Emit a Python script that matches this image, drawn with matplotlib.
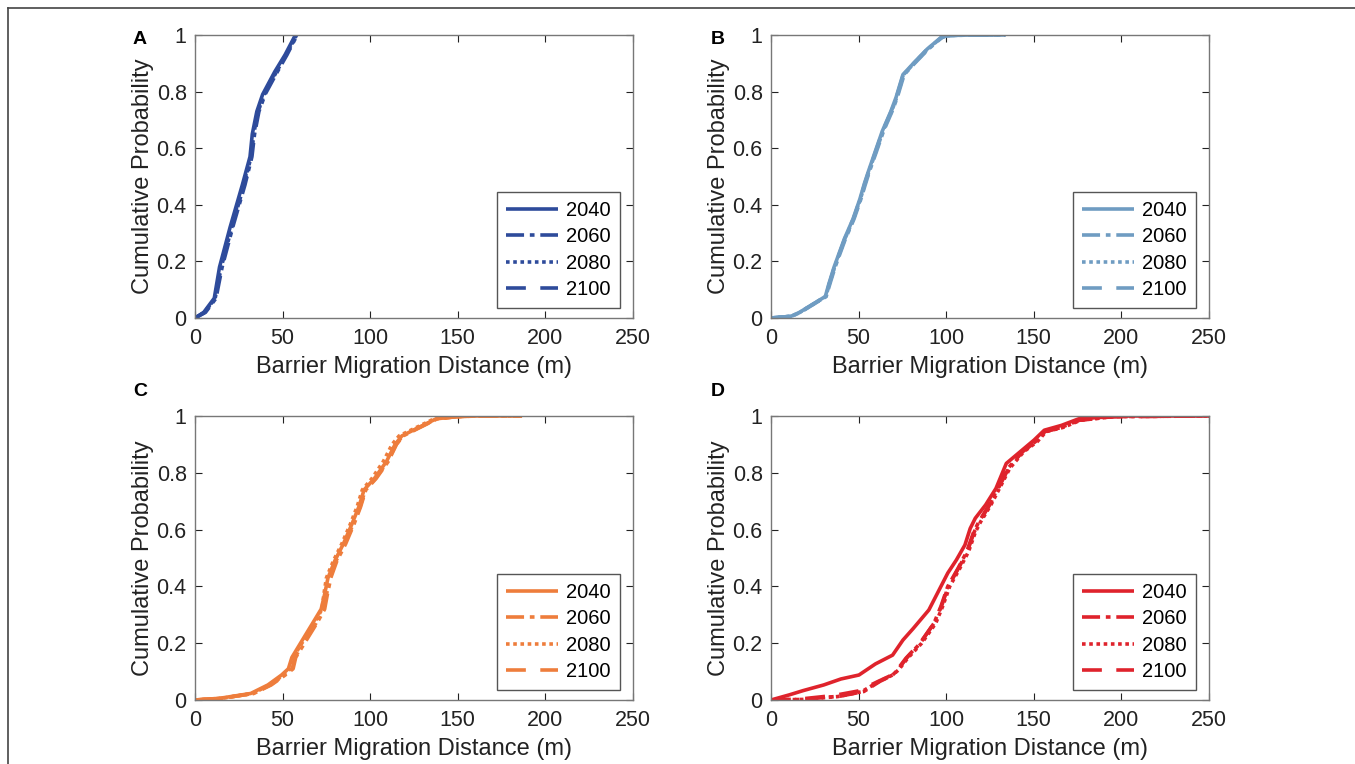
import matplotlib
matplotlib.use('Agg')
import matplotlib.pyplot as plt
from matplotlib.lines import Line2D

plt.rcParams['font.family'] = ['Liberation Sans', 'DejaVu Sans']

YEARS = ['2040', '2060', '2080', '2100']
PANEL_LETTERS = ['A', 'B', 'C', 'D']
COLORS = ['#2E4B9B', '#6F9CC2', '#EE7D3C', '#DF232C']

# --- panel A (blue) ---
a_x_2040 = [0, 5, 11, 14, 20, 27, 31.4, 32.7, 35.3, 38.6, 45.5, 51.4, 57.3]
a_y_2040 = [0, 0.02, 0.07, 0.18, 0.32, 0.47, 0.57, 0.65, 0.73, 0.79, 0.87, 0.93, 1.0]
a_x_2060 = [0, 6, 12, 15.5, 21.5, 28.5, 32.5, 34, 36.5, 40, 47, 52.5, 58.3]
a_y_2060 = [0, 0.02, 0.07, 0.18, 0.32, 0.47, 0.57, 0.65, 0.73, 0.79, 0.87, 0.93, 1.0]
a_x_2080 = [0, 5.5, 11.5, 15, 21, 28, 32, 33.5, 36, 39.5, 46.5, 52, 58]
a_y_2080 = [0, 0.02, 0.07, 0.18, 0.32, 0.47, 0.57, 0.65, 0.73, 0.79, 0.87, 0.93, 1.0]
a_x_2100 = [0, 5.5, 11.5, 14.5, 20.5, 27.5, 32, 33.3, 36, 39.2, 46, 52, 57.8]
a_y_2100 = [0, 0.02, 0.07, 0.18, 0.32, 0.47, 0.57, 0.65, 0.73, 0.79, 0.87, 0.93, 1.0]

# --- panel B (light blue) ---
b_x_2040 = [0, 11.4, 16.3, 24.2, 31, 33, 36, 41.9, 46.8, 50.7, 53.3, 55.7, 59.6, 63.5,
            68.4, 71.4, 75.3, 81.3, 89.1, 96.8, 99.8, 114.5, 133.9]
b_y_2040 = [0, 0.006, 0.02, 0.05, 0.076, 0.12, 0.18, 0.28, 0.35, 0.42, 0.475, 0.52, 0.59, 0.66,
            0.73, 0.78, 0.86, 0.9, 0.95, 0.99, 0.998, 1.0, 1.0]
b_x_2060 = [0, 11.8, 16.8, 24.7, 31.5, 33.6, 36.6, 42.5, 47.4, 51.3, 54, 56.3, 60.3, 64.2,
            69.1, 72.1, 76, 82, 89.8, 97.4, 100.4, 115, 133.5]
b_y_2060 = b_y_2040
b_x_2080 = [0, 11.6, 16.5, 24.4, 31.3, 33.3, 36.3, 42.2, 47.1, 51, 53.7, 56, 60, 63.9,
            68.8, 71.8, 75.7, 81.6, 89.4, 97.1, 100.1, 114.8, 133.7]
b_y_2080 = b_y_2040
b_x_2100 = [0, 11.5, 16.4, 24.3, 31.2, 33.2, 36.2, 42.1, 47, 50.9, 53.5, 55.9, 59.8, 63.7,
            68.6, 71.6, 75.5, 81.5, 89.3, 97, 100, 114.6, 133.8]
b_y_2100 = b_y_2040

# --- panel C (orange) ---
c_x_2040 = [0, 14.1, 31.8, 41.6, 49.4, 53.3, 55.3, 61.2, 67.1, 72, 73.9, 75.9, 79.8, 84.7,
            89.6, 93.5, 96.5, 102.4, 109.3, 114.2, 118.1, 127.8, 137.6, 149.4, 161.2, 186.7]
c_y_2040 = [0, 0.006, 0.023, 0.053, 0.088, 0.11, 0.15, 0.21, 0.27, 0.32, 0.37, 0.43, 0.49, 0.55,
            0.62, 0.68, 0.74, 0.78, 0.84, 0.9, 0.93, 0.96, 0.99, 0.998, 1.0, 1.0]
c_x_2060 = [0, 15, 33.5, 43.5, 51.5, 56, 57.5, 63.5, 69.5, 74, 75.5, 77.5, 81, 86,
            90.8, 94.5, 97.5, 103.4, 110.3, 115, 118.8, 128.5, 138.2, 150, 162, 186.5]
c_y_2060 = c_y_2040
c_x_2080 = [0, 15.5, 33, 42.5, 50.5, 54.5, 56, 62, 68, 72.5, 73.5, 75, 79, 83.8,
            88.7, 92.5, 95.5, 101, 107.5, 112.5, 116.5, 126.5, 136.5, 148.5, 160.5, 186.2]
c_y_2080 = c_y_2040
c_x_2100 = [0, 15.2, 33.3, 43, 51, 55.5, 57, 63, 69, 73.5, 75, 77, 80.5, 85.5,
            90.3, 94.2, 97.2, 103, 110, 114.8, 118.5, 128.2, 138, 149.8, 161.5, 186.6]
c_y_2100 = c_y_2040

# --- panel D (red) ---
d_x_2040 = [0, 10.4, 18.3, 30.1, 39.9, 50.2, 59.6, 69.4, 75.3, 81.2, 90.1, 95, 100.9, 105.8,
            110.7, 113.7, 116.6, 122.5, 128.4, 134.3, 142.2, 150.1, 156, 165.8, 175.6, 195.3,
            205, 250]
d_y_2040 = [0, 0.018, 0.033, 0.053, 0.074, 0.088, 0.127, 0.158, 0.211, 0.252, 0.317, 0.376,
            0.447, 0.493, 0.546, 0.604, 0.64, 0.687, 0.745, 0.833, 0.874, 0.915, 0.95, 0.967,
            0.99, 0.998, 1.0, 1.0]
d_x_2060 = [0, 18.3, 40, 53, 62, 69.4, 72.4, 77.3, 85.2, 93, 97, 100.9, 106.8, 111.7,
            115.7, 118.6, 124.5, 130.4, 135.3, 143.2, 151, 156, 165.8, 175.6, 195.3, 250]
d_y_2060 = [0, 0.002, 0.014, 0.03, 0.065, 0.088, 0.106, 0.147, 0.2, 0.27, 0.33, 0.4, 0.464,
            0.522, 0.592, 0.627, 0.687, 0.757, 0.816, 0.874, 0.91, 0.945, 0.96, 0.985, 0.998, 1.0]
d_x_2080 = [0, 18.3, 38, 51.7, 61.6, 69.4, 72.8, 78, 86, 94, 98, 102, 107.8, 112.7,
            116.7, 119.6, 125.5, 131.4, 136.3, 144.2, 152, 157, 166.8, 176.6, 196.3, 250]
d_y_2080 = [0, 0.002, 0.012, 0.029, 0.065, 0.088, 0.106, 0.147, 0.2, 0.27, 0.33, 0.4, 0.464,
            0.522, 0.592, 0.627, 0.687, 0.757, 0.816, 0.874, 0.91, 0.945, 0.96, 0.985, 0.998, 1.0]
d_x_2100 = [0, 16, 36, 50, 61, 69, 72, 77, 85, 93, 97.3, 101.2, 107, 112,
            116, 118.9, 124.8, 130.7, 135.6, 143.5, 151.3, 156.3, 166, 176, 195.5, 250]
d_y_2100 = [0, 0.003, 0.016, 0.032, 0.065, 0.088, 0.106, 0.147, 0.2, 0.27, 0.33, 0.4, 0.464,
            0.522, 0.592, 0.627, 0.687, 0.757, 0.816, 0.874, 0.91, 0.945, 0.96, 0.985, 0.998, 1.0]

panels = [
    [(a_x_2040, a_y_2040), (a_x_2060, a_y_2060), (a_x_2080, a_y_2080), (a_x_2100, a_y_2100)],
    [(b_x_2040, b_y_2040), (b_x_2060, b_y_2060), (b_x_2080, b_y_2080), (b_x_2100, b_y_2100)],
    [(c_x_2040, c_y_2040), (c_x_2060, c_y_2060), (c_x_2080, c_y_2080), (c_x_2100, c_y_2100)],
    [(d_x_2040, d_y_2040), (d_x_2060, d_y_2060), (d_x_2080, d_y_2080), (d_x_2100, d_y_2100)],
]

XTICKS = [0, 50, 100, 150, 200, 250]
YTICKS = [0, 0.2, 0.4, 0.6, 0.8, 1]
YTICK_LABELS = ['0', '0.2', '0.4', '0.6', '0.8', '1']

# solid, dash-dot, dotted, dashed (MATLAB style)
line_dashes = [None, (5, 1.6, 1.3, 1.6), (1, 1.0), (5.5, 4)]

W, H = 1355, 764
fig = plt.figure(figsize=(W / 100, H / 100), dpi=100)

# pixel boxes: left, top, right, bottom
boxes = [(195, 35, 633, 318), (771, 35, 1209, 318),
         (195, 416, 633, 700), (771, 416, 1209, 700)]
letter_pos = [(140, 40), (718, 40), (140, 392), (718, 392)]

for i, (l, t, r, b) in enumerate(boxes):
    ax = fig.add_axes([l / W, 1 - b / H, (r - l) / W, (b - t) / H])
    for j, (xs, ys) in enumerate(panels[i]):
        ln, = ax.plot(xs, ys, color=COLORS[i], lw=2.6, label=YEARS[j],
                      solid_capstyle='butt', dash_capstyle='butt')
        if line_dashes[j] is not None:
            ln.set_dashes(line_dashes[j])
    ax.set_xlim(0, 250)
    ax.set_ylim(0, 1)
    ax.set_xticks(XTICKS)
    ax.set_yticks(YTICKS)
    ax.set_yticklabels(YTICK_LABELS)
    ax.tick_params(direction='in', length=5, width=0.8, top=True, right=True,
                   labelsize=15.5, colors='#222222')
    ax.tick_params(axis='x', pad=7)
    ax.tick_params(axis='y', pad=6)
    for sp in ax.spines.values():
        sp.set_color('#777777')
        sp.set_linewidth(1.0)
    ax.set_xlabel('Barrier Migration Distance (m)', fontsize=17, color='#222222', labelpad=5)
    ax.set_ylabel('Cumulative Probability', fontsize=17, color='#222222', labelpad=2)
    leg = ax.legend(loc='lower right', bbox_to_anchor=(1 - 13 / (r - l), 10 / (b - t)),
                    borderaxespad=0, fancybox=False, framealpha=1, edgecolor='#555555',
                    fontsize=14.5, handlelength=2.6, labelspacing=0.36, handletextpad=0.4,
                    borderpad=0.45)
    leg.get_frame().set_linewidth(1.0)
    lx, ly = letter_pos[i]
    fig.text(lx / W, 1 - ly / H, PANEL_LETTERS[i], fontsize=14, fontweight='bold',
             ha='center', va='center')

# outer frame (cropped figure border)
fig.add_artist(Line2D([8 / W, 1], [1 - 8 / H, 1 - 8 / H], transform=fig.transFigure,
                      color='#444444', lw=1.2))
fig.add_artist(Line2D([8 / W, 8 / W], [0, 1 - 8 / H], transform=fig.transFigure,
                      color='#444444', lw=1.2))

fig.savefig('out.png', dpi=100)
